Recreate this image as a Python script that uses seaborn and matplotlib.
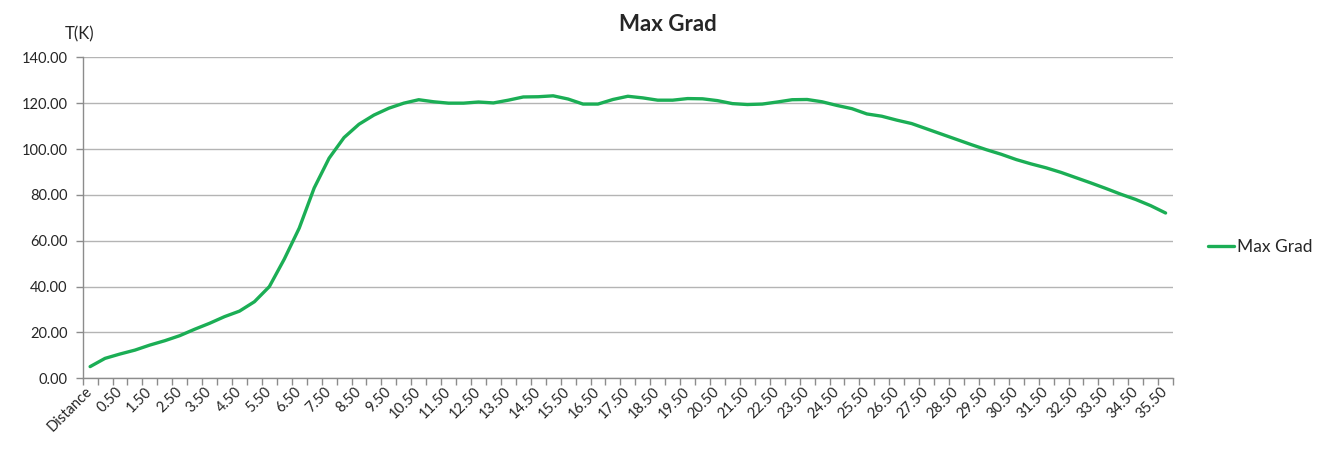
import matplotlib
matplotlib.use("Agg")
import matplotlib.pyplot as plt
from matplotlib.ticker import FixedLocator, FuncFormatter
import seaborn as sns
import pandas as pd

# ---- data ----
categories = ["Distance"] + [f"{0.5 * k:.2f}" for k in range(72)]
max_grad = [
    5.1, 8.7, 10.6, 12.3, 14.5, 16.4, 18.6, 21.4, 24.0, 26.9,
    29.3, 33.4, 40.0, 52.0, 65.5, 83.0, 96.0, 105.0, 110.8, 114.8,
    117.8, 120.0, 121.5, 120.6, 120.0, 120.0, 120.5, 120.1, 121.3, 122.7,
    122.8, 123.2, 121.8, 119.6, 119.6, 121.6, 123.0, 122.3, 121.3, 121.3,
    122.0, 121.9, 121.1, 119.8, 119.4, 119.6, 120.5, 121.5, 121.6, 120.6,
    119.0, 117.6, 115.3, 114.3, 112.6, 111.1, 108.8, 106.5, 104.2, 101.9,
    99.7, 97.7, 95.4, 93.5, 91.8, 89.8, 87.5, 85.2, 82.8, 80.3,
    78.0, 75.3, 72.1,
]
series_name = "Max Grad"
title = "Max Grad"
y_label = "T(K)"
y_ticks = [0, 20, 40, 60, 80, 100, 120, 140]

df = pd.DataFrame({"Distance": categories, "T": max_grad, "series": series_name})

# ---- style ----
sns.set_theme(style="white")
plt.rcParams["font.family"] = ["Lato", "DejaVu Sans"]

GREEN = "#1bae55"
GRID = "#b4b4b4"
AXIS = "#8c8c8c"
TXT = "#262626"

fig = plt.figure(figsize=(13.35, 4.54), dpi=100)
ax = fig.add_axes([0.0619, 0.1667, 0.8168, 0.7071])

sns.lineplot(data=df, x="Distance", y="T", hue="series", palette=[GREEN],
             sort=False, linewidth=2.4, ax=ax, legend=True)

n = len(categories)
ax.set_xlim(-0.5, n - 0.5)
ax.set_ylim(0, 140)

# y axis
ax.set_yticks(y_ticks)
ax.yaxis.set_major_formatter(FuncFormatter(lambda v, p: f"{v:.2f}"))
ax.tick_params(axis="y", which="major", length=5, width=1, color=AXIS,
               labelsize=10.5, labelcolor=TXT, pad=6, left=True)
ax.grid(axis="y", color=GRID, linewidth=1)
ax.set_axisbelow(True)

# x axis: labels every other category, tick marks between categories
major_pos = list(range(0, n, 2))
ax.xaxis.set_major_locator(FixedLocator(major_pos))
ax.set_xticklabels([categories[i] for i in major_pos])
ax.xaxis.set_minor_locator(FixedLocator([i - 0.5 for i in range(n + 1)]))
ax.tick_params(axis="x", which="major", length=0, labelsize=10.5,
               labelcolor=TXT, pad=8)
ax.tick_params(axis="x", which="minor", length=5, width=1, color=AXIS,
               bottom=True)
for lab in ax.get_xticklabels():
    lab.set_rotation(45)
    lab.set_ha("right")
    lab.set_va("center")
    lab.set_rotation_mode("anchor")

for side in ["top", "right"]:
    ax.spines[side].set_visible(False)
for side in ["left", "bottom"]:
    ax.spines[side].set_color(AXIS)
    ax.spines[side].set_linewidth(1)

ax.set_xlabel("")
ax.set_ylabel("")

fig.text(0.0487, 0.925, y_label, fontsize=12, color=TXT, ha="left", va="center")
fig.text(0.5, 0.945, title, fontsize=16, fontweight="bold", color=TXT,
         ha="center", va="center")

ax.legend(title=None, frameon=False, loc="center left",
          bbox_to_anchor=(0.893, 0.456), bbox_transform=fig.transFigure,
          fontsize=12.5, handlelength=1.5, handletextpad=0.2,
          labelcolor=TXT)

fig.savefig("out.png", dpi=100, facecolor="white")
